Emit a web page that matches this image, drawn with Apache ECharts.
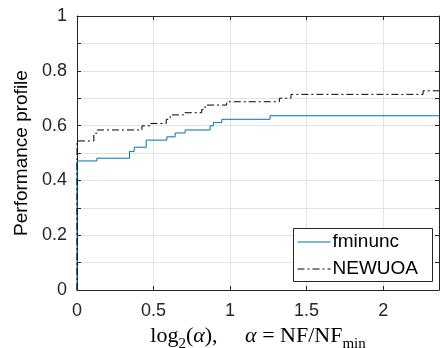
<!DOCTYPE html>
<html>
<head>
<meta charset="utf-8">
<script src="https://cdn.jsdelivr.net/npm/echarts@6/dist/echarts.min.js"></script>
<style>
  html, body { margin: 0; padding: 0; background: #fff; }
  #chart { width: 440px; height: 348px; }
</style>
</head>
<body>
<div id="chart"></div>
<script>
// step points: y holds from x onwards
const fminuncX = [0, 0, 0.13, 0.343, 0.374, 0.452, 0.587, 0.641, 0.706, 0.87, 0.891, 0.946, 1.261, 2.365];
const fminuncY = [0, 0.471, 0.481, 0.506, 0.521, 0.547, 0.559, 0.573, 0.584, 0.599, 0.611, 0.623, 0.636, 0.636];
const newuoaX = [0, 0, 0.11, 0.13, 0.424, 0.48, 0.583, 0.609, 0.696, 0.815, 0.837, 0.978, 1.322, 1.398, 2.261, 2.365];
const newuoaY = [0, 0.544, 0.572, 0.584, 0.599, 0.608, 0.623, 0.639, 0.647, 0.659, 0.675, 0.687, 0.70, 0.714, 0.727, 0.727];
const xTicks = [0, 0.5, 1, 1.5, 2];
const yTicks = [0, 0.2, 0.4, 0.6, 0.8, 1];

const axisCol = '#262626';
const font = '"Liberation Sans", Arial, sans-serif';
const serif = '"Liberation Serif", "DejaVu Serif", serif';

const pairs = (xs, ys) => xs.map((x, i) => [x, ys[i]]);

const chart = echarts.init(document.getElementById('chart'));

const baseX = {
  type: 'value', min: 0, max: 2.365, interval: 0.5,
  axisLine: { show: true, onZero: false, lineStyle: { color: axisCol, width: 1 } },
  axisTick: { show: true, inside: true, length: 4, lineStyle: { color: axisCol } },
  splitLine: { show: false }
};
const baseY = {
  type: 'value', min: 0, max: 1, interval: 0.1,
  axisLine: { show: true, onZero: false, lineStyle: { color: axisCol, width: 1 } },
  axisTick: { show: true, inside: true, length: 4, lineStyle: { color: axisCol } },
  splitLine: { show: false }
};

chart.setOption({
  animation: false,
  grid: { left: 77, right: 1, top: 16, bottom: 58, containLabel: false, outerBoundsMode: 'none' },
  graphic: [{
    type: 'rect', left: 293, top: 228, z: 3,
    shape: { width: 139, height: 53 },
    style: { fill: '#fff', stroke: '#262626', lineWidth: 1 }
  }],
  legend: {
    orient: 'vertical',
    left: 293, top: 228,
    padding: [3, 4, 2, 4],
    itemGap: 5,
    itemWidth: 33,
    itemHeight: 10,
    itemStyle: { opacity: 0 },
    lineStyle: { width: 1 },
    textStyle: { fontFamily: font, fontSize: 19, lineHeight: 22, color: '#000', padding: [0, 0, 0, -3] },
    data: ['fminunc', 'NEWUOA'],
    z: 10
  },
  xAxis: [
    Object.assign({}, baseX, {
      position: 'bottom',
      splitLine: { show: true, lineStyle: { color: '#e3e3e3', width: 1 } },
      axisLabel: {
        color: axisCol, fontFamily: font, fontSize: 18, margin: 12,
        formatter: v => xTicks.some(t => Math.abs(t - v) < 1e-6) ? String(v) : ''
      },
      name: '{r|log}{s|2}{r|(}{i|α}{r|),     }{i|α}{r| = NF/NF}{s|min}',
      nameLocation: 'middle',
      nameGap: 31,
      nameTextStyle: {
        rich: {
          r: { fontFamily: serif, fontSize: 22, color: '#000', verticalAlign: 'bottom', lineHeight: 26 },
          i: { fontFamily: serif, fontSize: 22, fontStyle: 'italic', color: '#000', verticalAlign: 'bottom', lineHeight: 26 },
          s: { fontFamily: serif, fontSize: 15, color: '#000', verticalAlign: 'bottom', lineHeight: 26, padding: [0, 0, -5, 0] }
        }
      }
    }),
    Object.assign({}, baseX, { position: 'top', axisLabel: { show: false } })
  ],
  yAxis: [
    Object.assign({}, baseY, {
      position: 'left',
      splitLine: { show: true, lineStyle: { color: '#e3e3e3', width: 1 } },
      axisLabel: {
        color: axisCol, fontFamily: font, fontSize: 18, margin: 10,
        formatter: v => yTicks.some(t => Math.abs(t - v) < 1e-6) ? String(v) : ''
      },
      name: 'Performance profile',
      nameLocation: 'middle',
      nameGap: 43,
      nameTextStyle: { fontFamily: font, fontSize: 19, color: '#000' }
    }),
    Object.assign({}, baseY, { position: 'right', axisLabel: { show: false } })
  ],
  series: [
    {
      name: 'fminunc', type: 'line', step: 'end', symbol: 'none',
      data: pairs(fminuncX, fminuncY),
      lineStyle: { color: '#0072BD', width: 1 },
      itemStyle: { color: '#0072BD' },
      z: 3
    },
    {
      name: 'NEWUOA', type: 'line', step: 'end', symbol: 'none',
      data: pairs(newuoaX, newuoaY),
      lineStyle: { color: '#000', width: 1, type: [7, 3, 2, 3] },
      itemStyle: { color: '#000' },
      z: 4
    }
  ]
});
</script>
</body>
</html>
